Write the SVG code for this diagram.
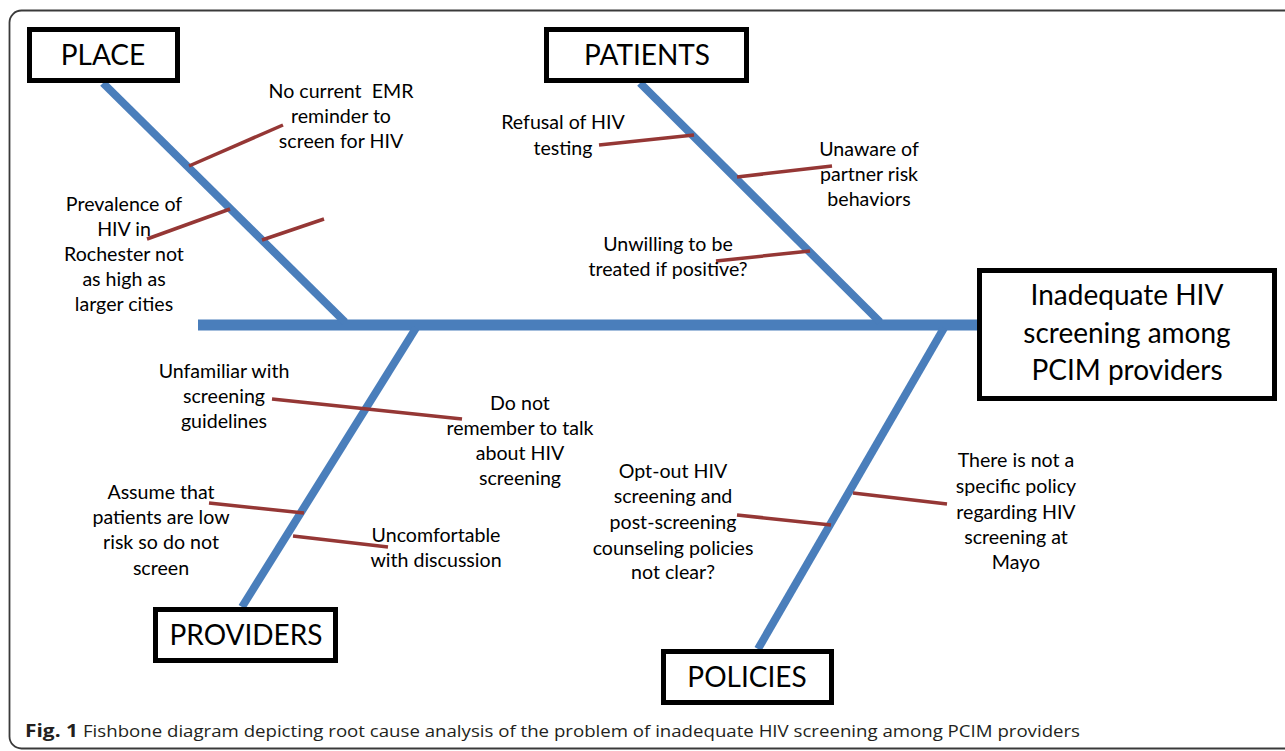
<svg xmlns="http://www.w3.org/2000/svg" width="1285" height="751" viewBox="0 0 1285 751">
<style>
.frame{fill:none;stroke:#3a3a3a;stroke-width:1.8}
.box{fill:#fff;stroke:#000;stroke-width:5}
.title{font-family:Lato,"Liberation Sans",sans-serif;font-size:28px;fill:#000;text-anchor:middle}
.main{font-family:Lato,"Liberation Sans",sans-serif;font-size:28px;fill:#000;text-anchor:middle}
.lbl{font-family:Lato,"Liberation Sans",sans-serif;font-size:19.6px;fill:#000;text-anchor:middle}
.spine{stroke:#4a7ebb;stroke-width:11;fill:none}
.bone{stroke:#4a7ebb;stroke-width:8;fill:none}
.rib{stroke:#953735;stroke-width:3.5;fill:none}
.cap{font-family:"Open Sans","Liberation Sans",sans-serif;font-size:17px;fill:#231f20}
</style>
<rect class="frame" x="9.5" y="10.5" width="1300" height="738" rx="12"/>
<g id="connectors">
<line class="spine" x1="198" y1="325" x2="977" y2="325"/>
<line class="bone" x1="103" y1="83" x2="345" y2="322"/>
<line class="bone" x1="640" y1="83" x2="880" y2="322"/>
<line class="bone" x1="416" y1="328" x2="242" y2="607"/>
<line class="bone" x1="944" y1="328" x2="758" y2="649"/>
<line class="rib" x1="189" y1="166" x2="283" y2="125"/>
<line class="rib" x1="147" y1="239" x2="230" y2="209"/>
<line class="rib" x1="262" y1="240" x2="324" y2="219"/>
<line class="rib" x1="599" y1="145" x2="694" y2="135"/>
<line class="rib" x1="737" y1="177" x2="832" y2="166"/>
<line class="rib" x1="716" y1="261" x2="810" y2="251"/>
<line class="rib" x1="272" y1="399" x2="462" y2="419"/>
<line class="rib" x1="209" y1="503" x2="304" y2="513"/>
<line class="rib" x1="293" y1="536" x2="388" y2="547"/>
<line class="rib" x1="737" y1="515" x2="831" y2="525"/>
<line class="rib" x1="853" y1="493" x2="947" y2="504"/>
</g>
<g id="place"><rect class="box" x="29.5" y="29.5" width="148" height="51"/><text class="title" x="103" y="65">PLACE</text></g>
<g id="patients"><rect class="box" x="546.5" y="29.5" width="200" height="51"/><text class="title" x="647" y="65">PATIENTS</text></g>
<g id="providers"><rect class="box" x="155.5" y="609.5" width="180" height="51"/><text class="title" x="246" y="645">PROVIDERS</text></g>
<g id="policies"><rect class="box" x="663.5" y="651.5" width="168" height="51"/><text class="title" x="747" y="687">POLICIES</text></g>
<g id="problem"><rect class="box" x="979.5" y="270.5" width="295" height="128"/><text class="main" x="1127"><tspan x="1127" y="305">Inadequate HIV</tspan><tspan x="1127" y="343">screening among</tspan><tspan x="1127" y="380">PCIM providers</tspan></text></g>
<g id="cause-emr"><text class="lbl" style="white-space:pre"><tspan x="341" y="98">No current  EMR</tspan><tspan x="341" y="123">reminder to</tspan><tspan x="341" y="148">screen for HIV</tspan></text></g>
<g id="cause-prevalence"><text class="lbl"><tspan x="124" y="211">Prevalence of</tspan><tspan x="124" y="236">HIV in</tspan><tspan x="124" y="261">Rochester not</tspan><tspan x="124" y="286">as high as</tspan><tspan x="124" y="311">larger cities</tspan></text></g>
<g id="cause-refusal"><text class="lbl"><tspan x="563" y="129">Refusal of HIV</tspan><tspan x="563" y="155">testing</tspan></text></g>
<g id="cause-unaware"><text class="lbl"><tspan x="869" y="156">Unaware of</tspan><tspan x="869" y="181">partner risk</tspan><tspan x="869" y="206">behaviors</tspan></text></g>
<g id="cause-unwilling"><text class="lbl"><tspan x="668" y="251">Unwilling to be</tspan><tspan x="668" y="276">treated if positive?</tspan></text></g>
<g id="cause-unfamiliar"><text class="lbl"><tspan x="224" y="378">Unfamiliar with</tspan><tspan x="224" y="403">screening</tspan><tspan x="224" y="428">guidelines</tspan></text></g>
<g id="cause-remember"><text class="lbl"><tspan x="520" y="410">Do not</tspan><tspan x="520" y="435">remember to talk</tspan><tspan x="520" y="460">about HIV</tspan><tspan x="520" y="485">screening</tspan></text></g>
<g id="cause-assume"><text class="lbl"><tspan x="161" y="499">Assume that</tspan><tspan x="161" y="524">patients are low</tspan><tspan x="161" y="549">risk so do not</tspan><tspan x="161" y="575">screen</tspan></text></g>
<g id="cause-uncomfortable"><text class="lbl"><tspan x="436" y="542">Uncomfortable</tspan><tspan x="436" y="567">with discussion</tspan></text></g>
<g id="cause-optout"><text class="lbl"><tspan x="673" y="478">Opt-out HIV</tspan><tspan x="673" y="503">screening and</tspan><tspan x="673" y="529">post-screening</tspan><tspan x="673" y="555">counseling policies</tspan><tspan x="673" y="579">not clear?</tspan></text></g>
<g id="cause-policy"><text class="lbl"><tspan x="1016" y="467">There is not a</tspan><tspan x="1016" y="493">specific policy</tspan><tspan x="1016" y="519">regarding HIV</tspan><tspan x="1016" y="544">screening at</tspan><tspan x="1016" y="569">Mayo</tspan></text></g>
<g id="caption"><text class="cap" x="25" y="737" font-weight="bold" textLength="53" lengthAdjust="spacingAndGlyphs">Fig. 1</text><text class="cap" x="83" y="737" textLength="997" lengthAdjust="spacingAndGlyphs">Fishbone diagram depicting root cause analysis of the problem of inadequate HIV screening among PCIM providers</text></g>
</svg>
